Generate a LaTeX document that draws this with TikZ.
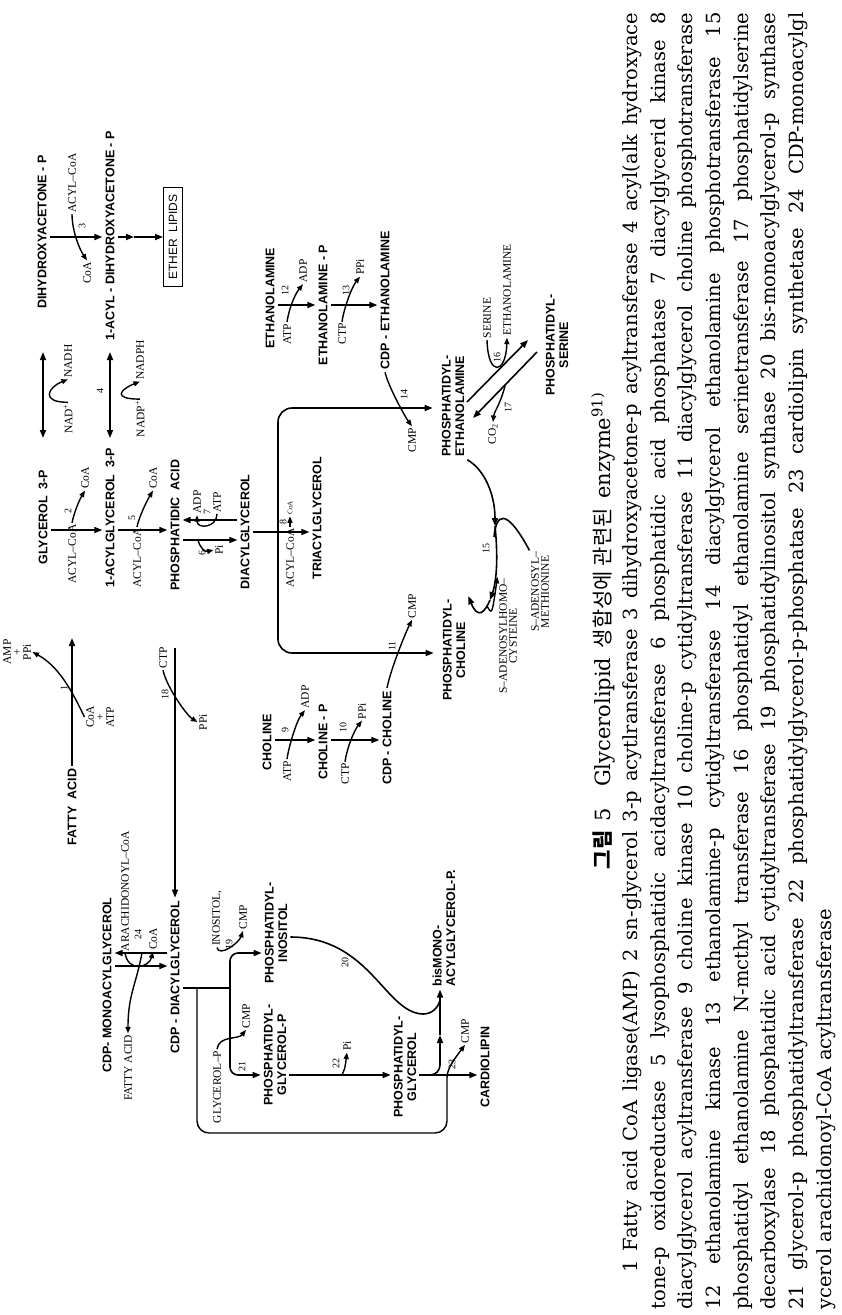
\documentclass[tikz,border=0pt]{standalone}
\usepackage{fontspec}
\usetikzlibrary{arrows.meta}
\newfontfamily\cpdfont{Liberation Sans}
\newfontfamily\rgtfont{Liberation Serif}
\newfontfamily\capfont{DejaVu Serif}
\newfontfamily\krfont{Noto Sans CJK KR}

\begin{document}
\begin{tikzpicture}[x=1pt, y=-1pt,
  cpd/.style={rotate=90, inner sep=3pt, align=center,
              font=\cpdfont\bfseries\fontsize{12.5}{13.5}\selectfont},
  rgt/.style={rotate=90, inner sep=1.5pt, align=center,
              font=\rgtfont\fontsize{11.5}{10}\selectfont},
  enz/.style={rotate=90, inner sep=0pt, font=\rgtfont\fontsize{10}{10}\selectfont},
  rx/.style={-{Triangle[length=8pt,width=6pt]}, line width=1.6pt},
  dbl/.style={{Triangle[length=8pt,width=6pt]}-{Triangle[length=8pt,width=6pt]}, line width=1.6pt},
  sd/.style={-{Triangle[length=6.5pt,width=5pt]}, line width=1.4pt},
  ln/.style={line width=1.6pt}
]
\fill[white] (0,0) rectangle (841,1315);
% ----- ether lipid branch -----
\node[cpd] (dhap)  at (42,232)  {DIHYDROXYACETONE - P};
\node[cpd] (adhap) at (110,236) {1-ACYL - DIHYDROXYACETONE - P};
\node[cpd, draw, line width=1.4pt, inner xsep=7pt, inner ysep=5pt,
      font=\cpdfont\fontsize{12}{12}\selectfont] (ether) at (173,237) {ETHER\ \ LIPIDS};
\node[rgt] (acoa3) at (72,183) {ACYL–CoA};
\node[rgt] (coa3)  at (87,273) {CoA};
\node[enz] (e3)    at (82,226) {3};
\coordinate (ethmid) at (134,237);
\draw[sd] (acoa3.west) .. controls +(0,16) and +(-8,-12) .. (coa3.east);
\draw[rx] (adhap.south |- 0,237) -- (ethmid);
\draw[rx] (ethmid) -- (ether.north |- 0,237);
% ----- NAD / NADP -----
\coordinate (nadL)  at (43,352);  \coordinate (nadR)  at (43,438);
\coordinate (nadpL) at (110,352); \coordinate (nadpR) at (110,438);
\draw[dbl] (nadL) -- (nadR);
\draw[dbl] (nadpL) -- (nadpR);
\node[rgt] (nadin)   at (68,419)  {NAD\textsuperscript{+}};
\node[rgt] (nadout)  at (68,361)  {NADH};
\node[rgt] (nadpin)  at (140,419) {NADP\textsuperscript{+}};
\node[rgt] (nadpout) at (140,360) {NADPH};
\node[enz] (e4) at (100,391) {4};
\draw[sd] (nadin.east) .. controls +(-28,0) and +(-20,8) .. (nadout.west);
\draw[sd] (nadpin.east) .. controls +(-28,0) and +(-20,8) .. (nadpout.west);
% ----- glycerol 3-P to diacylglycerol -----
\node[cpd] (g3p)  at (43,517)  {GLYCEROL\ \ 3-P};
\node[cpd] (ag3p) at (110,518) {1-ACYLGLYCEROL\ \ 3-P};
\node[cpd] (pa)   at (175,525) {PHOSPHATIDIC\ \ ACID};
\node[cpd] (dag)  at (245,532) {DIACYLGLYCEROL};
\node[rgt] (acoa2) at (72,554)  {ACYL–CoA};
\node[rgt] (coa2)  at (85,478)  {CoA};
\node[enz] (e2)    at (68,511)  {2};
\node[rgt] (acoa5) at (137,558) {ACYL–CoA};
\node[rgt] (coa5)  at (153,478) {CoA};
\node[enz] (e5)    at (132,518) {5};
\foreach \a/\b/\y in {dhap/adhap/237, g3p/ag3p/530, ag3p/pa/530, pa/dag/540}
  {\draw[rx] (\a.south |- 0,\y) -- (\b.north |- 0,\y);}
\draw[rx] (dag.north |- 0,520) -- (pa.south |- 0,520);
\draw[sd] (acoa2.east) .. controls +(2,-10) and +(-6,10) .. (coa2.west);
\draw[sd] (acoa5.east) .. controls +(2,-10) and +(-6,10) .. (coa5.west);
\node[rgt] (pi6)  at (219,550) {Pi};
\node[enz] (e6)   at (202,553) {6};
\coordinate (c6) at (198,540);
\draw[sd] (c6) .. controls (200,548) and (205,552) .. (pi6.north);
\node[rgt] (adp7) at (197,502) {ADP};
\node[rgt] (atp7) at (217,502) {ATP};
\node[enz] (e7)   at (207,512) {7};
\draw[sd] (atp7.west) .. controls +(0,14) and +(0,14) .. (adp7.west);
% ----- fatty acid activation -----
\node[cpd] (fa) at (72,807) {FATTY\ \ ACID};
\coordinate (fatip) at (72,638);
\draw[rx] (fa.east) -- (fatip);
\node[rgt] (coaatp) at (100,717) {CoA\\+\\ATP};
\node[rgt] (amppi)  at (17,652)  {AMP\\+\\PPi};
\node[enz] (e1) at (64,688) {1};
\draw[sd] (coaatp.north) .. controls (76,700) and (62,668) .. (amppi.south);
% ----- CDP-diacylglycerol -----
\node[cpd] (cdpdag) at (175,977) {CDP - DIACYLGLYCEROL};
\coordinate (a18) at (175,648);
\draw[rx] (a18) -- (cdpdag.east);
\node[rgt] (ctp18) at (163,658) {CTP};
\node[rgt] (ppi18) at (203,722) {PPi};
\node[enz] (e18) at (165,694) {18};
\draw[sd] (ctp18.west) .. controls +(4,18) and +(-10,-6) .. (ppi18.north);
\node[cpd] (cdpmag) at (107,985) {CDP- MONOACYLGLYCEROL};
\draw[rx] (cdpdag.north |- 0,953) -- (cdpmag.south |- 0,953);
\draw[rx] (cdpmag.south |- 0,966) -- (cdpdag.north |- 0,966);
\node[rgt] (arach) at (125,891)  {ARACHIDONOYL–CoA};
\node[rgt] (coa24) at (153,939)  {CoA};
\node[enz] (e24)   at (138,934)  {24};
\node[rgt] (fa24)  at (128,1068) {FATTY ACID};
\coordinate (c24) at (142,953);
\draw[sd] (arach.west) .. controls +(3,20) and +(-4,16) .. (coa24.west);
\draw[sd] (c24) .. controls (136,985) and (128,995) .. (fa24.east);
% ----- PI, PGP, PG, cardiolipin -----
\node[cpd] (pi)  at (276,933)  {PHOSPHATIDYL-\\INOSITOL};
\node[cpd] (pgp) at (275,1055) {PHOSPHATIDYL-\\GLYCEROL-P};
\node[cpd] (pg)  at (405,1067) {PHOSPHATIDYL-\\GLYCEROL};
\node[cpd] (cl)  at (485,1067) {CARDIOLIPIN};
\node[cpd, align=left] (bmp) at (444,928) {bisMONO-\\ACYLGLYCEROL-P.};
\coordinate (cdpbr) at (230,988);
\coordinate (cllp) at (197,988);
\draw[ln] (cdpdag.south |- cdpbr) -- (cdpbr);
\draw[rx, rounded corners=8pt] (cdpbr) |- (pi.north |- 0,953);
\draw[rx, rounded corners=8pt] (cdpbr) |- (pgp.north |- 0,1075);
\node[rgt] (in19)  at (217,918)  {INOSITOL,};
\node[rgt] (cmp19) at (243,917)  {CMP};
\node[enz] (e19)   at (229,944)  {19};
\draw[sd] (in19.west) .. controls +(2,10) and +(-4,12) .. (cmp19.west);
\node[rgt] (gp21)  at (217,1087) {GLYCEROL–P};
\node[rgt] (cmp21) at (246,1016) {CMP};
\node[enz] (e21)   at (242,1066) {21};
\draw[sd] (gp21.east) .. controls +(2,-14) and +(-8,10) .. (cmp21.west);
\draw[rx] (pgp.south |- 0,1075) -- (pg.north |- 0,1075);
\node[rgt] (pi22) at (347,1046) {Pi};
\node[enz] (e22)  at (336,1063) {22};
\coordinate (c22) at (342,1075);
\draw[sd] (c22) .. controls (345,1068) .. (pi22.west);
\draw[rx] (pg.south |- 0,1075) -- (cl.north |- 0,1075);
\coordinate (bmpmid) at (440,1035);
\draw[rx, rounded corners=10pt] (pg.south |- 0,1075) -| (bmpmid);
\draw[rx] (bmpmid) -- (bmp.west -| bmpmid);
\draw[ln] (pi.south |- 0,937) .. controls (370,937) and (385,1013) .. (423,1014)
          .. controls (432,1014) and (438,1008) .. (440,1000);
\node[enz] (e20) at (345,962) {20};
\node[rgt] (cmp23) at (465,1031) {CMP};
\node[enz] (e23)   at (452,1064) {23};
\draw[sd, rounded corners=12pt] (cllp) -- (197,1133) -- (447,1133) -- (447,1090)
          .. controls (447,1070) and (452,1062) .. (cmp23.west);
% ----- diacylglycerol branch point -----
\coordinate (dagbr) at (278,532);
\node[cpd] (tag) at (317,518) {TRIACYLGLYCEROL};
\node[cpd] (pe)  at (453,406) {PHOSPHATIDYL-\\ETHANOLAMINE};
\node[cpd] (pc)  at (454,650) {PHOSPHATIDYL-\\CHOLINE};
\draw[ln] (dag.south) -- (dagbr);
\draw[rx, rounded corners=14pt, shorten >=6pt] (dagbr) |- (pe.north |- 0,408);
\draw[rx, rounded corners=14pt, shorten >=6pt] (dagbr) |- (pc.north |- 0,653);
\draw[rx] (dagbr) -- (tag.north |- dagbr);
\node[rgt] (acoa8) at (290,558) {ACYL–CoA};
\node[rgt, font=\rgtfont\fontsize{7}{7}\selectfont] (coa8) at (290,508) {CoA};
\node[enz] (e8) at (283,522) {8};
\draw[sd] (acoa8.east) .. controls +(0,-8) and +(0,8) .. (coa8.west);
% ----- ethanolamine and choline -----
\node[cpd] (eta)  at (270,298) {ETHANOLAMINE};
\node[cpd] (etap) at (323,305) {ETHANOLAMINE - P};
\node[cpd] (cdpe) at (385,300) {CDP - ETHANOLAMINE};
\node[cpd] (cho)  at (267,742) {CHOLINE};
\node[cpd] (chop) at (323,742) {CHOLINE - P};
\node[cpd] (cdpc) at (387,738) {CDP - CHOLINE};
\foreach \a/\b/\y in {eta/etap/305, etap/cdpe/305, cho/chop/740, chop/cdpc/740}
  {\draw[rx] (\a.south |- 0,\y) -- (\b.north |- 0,\y);}
\node[rgt] (atp12) at (287,334) {ATP};
\node[rgt] (adp12) at (303,271) {ADP};
\node[enz] (e12)   at (285,290) {12};
\node[rgt] (ctp13) at (342,334) {CTP};
\node[rgt] (ppi13) at (360,267) {PPi};
\node[enz] (e13)   at (346,290) {13};
\node[rgt] (atp9)  at (287,771) {ATP};
\node[rgt] (adp9)  at (305,697) {ADP};
\node[enz] (e9)    at (285,730) {9};
\node[rgt] (ctp10) at (345,774) {CTP};
\node[rgt] (ppi10) at (362,711) {PPi};
\node[enz] (e10)   at (343,727) {10};
\foreach \i/\o in {atp12/adp12, ctp13/ppi13, atp9/adp9, ctp10/ppi10}
  {\draw[sd] (\i.east) .. controls +(2,-14) and +(-8,10) .. (\o.west);}
\node[rgt] (cmp14) at (412,440) {CMP};
\node[enz] (e14)   at (404,394) {14};
\draw[sd] (cdpe.west) .. controls +(4,16) and +(-6,-8) .. (cmp14.east);
\node[rgt] (cmp11) at (412,606) {CMP};
\node[enz] (e11)   at (392,646) {11};
\draw[sd] (cdpc.east) .. controls +(4,-20) and +(-6,12) .. (cmp11.west);
% ----- methylation, serine exchange -----
\node[rgt] (sam) at (540,592) {S–ADENOSYL–\\METHIONINE};
\node[rgt] (sah) at (508,636) {S–ADENOSYLHOMO–\\CYSTEINE};
\node[enz] (e15) at (486,548) {15};
\coordinate (m15a) at (495,526);
\coordinate (m15b) at (490,600);
\draw[rx] (pe.south west) .. controls (485,470) and (495,495) .. (m15a);
\draw[rx] (m15a) .. controls (498,555) and (497,580) .. (m15b);
\draw[rx] (m15b) .. controls (485,612) and (478,620) .. (pc.south east);
\draw[ln] (sam.north east) .. controls (505,505) and (496,515) .. (494,537);
\coordinate (c15) at (487,606);
\draw[sd] (c15) .. controls (492,615) .. (sah.north east);
\node[cpd] (ps) at (557,345) {PHOSPHATIDYL-\\SERINE};
\coordinate (p16a) at (467,402); \coordinate (p16b) at (528,340);
\coordinate (p17a) at (537,352); \coordinate (p17b) at (473,418);
\draw[rx] (p16a) -- (p16b);
\draw[rx] (p17a) -- (p17b);
\node[rgt] (ser16) at (487,318) {SERINE};
\node[rgt] (eta16) at (507,290) {ETHANOLAMINE};
\node[enz] (e16)   at (497,357) {16};
\draw[sd] (ser16.west) .. controls (488,378) and (506,374) .. (eta16.west);
\node[rgt] (co17) at (493,434) {CO\textsubscript{2}};
\node[enz] (e17)  at (508,407) {17};
\coordinate (c17) at (505,386);
\draw[sd] (c17) .. controls (500,405) and (494,412) .. (co17.east);
% ----- caption -----
\node[rotate=90, inner sep=0pt, font=\krfont\fontsize{21}{21}\selectfont] (title) at (603,631)
  {\textbf{그림}\ \ {\capfont 5}\quad {\capfont Glycerolipid}\ \ 생합성에 관련된\ \ {\capfont enzyme\textsuperscript{91)}}};
\node[rotate=90, inner sep=0pt, align=left, font=\capfont\fontsize{19.5}{27.7}\selectfont] (caption) at (729,661)
  {\hspace*{37pt}\makebox[1260pt][s]{1 Fatty acid CoA ligase(AMP) 2 sn-glycerol 3-p acytlransferase 3 dihydroxyacetone-p acyltransferase 4 acyl(alk hydroxyace}\\
   \makebox[1297pt][s]{tone-p oxidoreductase 5 lysophosphatidic acidacyltransferase 6 phosphatidic acid phosphatase 7 diacylglycerid kinase 8}\\
   \makebox[1297pt][s]{diacylglycerol acyltransferase 9 choline kinase 10 choline-p cytidyltransferase 11 diacylglycerol choline phosphotransferase}\\
   \makebox[1297pt][s]{12 ethanolamine kinase 13 ethanolamine-p cytidyltransferase 14 diacylglycerol ethanolamine phosphotransferase 15}\\
   \makebox[1297pt][s]{phosphatidyl ethanolamine N-mcthyl transferase 16 phosphatidyl ethanolamine serinetransferase 17 phosphatidylserine}\\
   \makebox[1297pt][s]{decarboxylase 18 phosphatidic acid cytidyltransferase 19 phosphatidylinositol synthase 20 bis-monoacylglycerol-p synthase}\\
   \makebox[1297pt][s]{21 glycerol-p phosphatidyltransferase 22 phosphatidylglycerol-p-phosphatase 23 cardiolipin synthetase 24 CDP-monoacylgl}\\
   ycerol arachidonoyl-CoA acyltransferase};
\end{tikzpicture}
\end{document}
